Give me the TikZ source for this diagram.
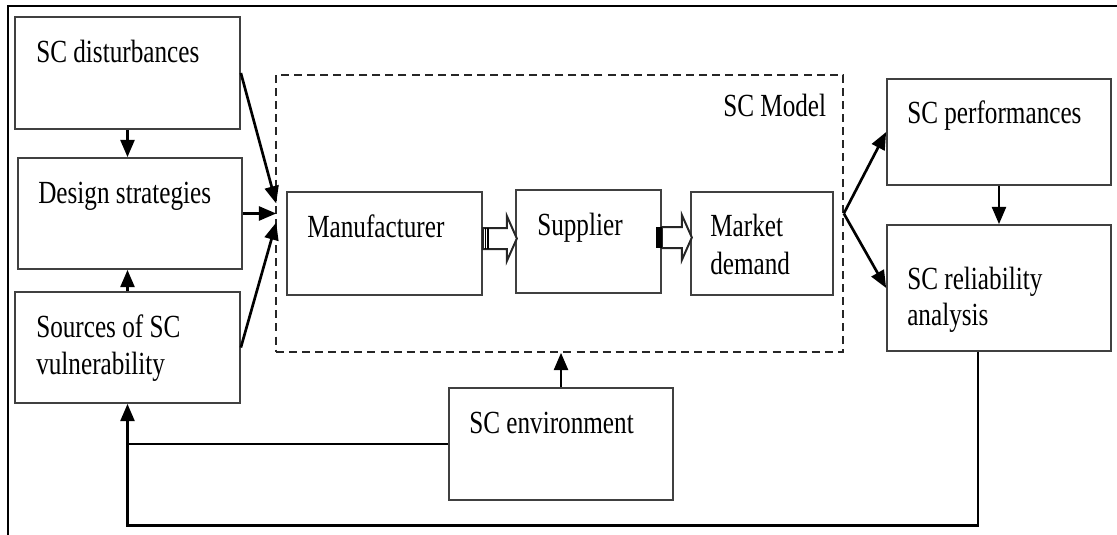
\documentclass[tikz,border=0pt]{standalone}
\usepackage{fontspec}
\usepackage{graphicx}
\setmainfont{Liberation Serif}
\usetikzlibrary{arrows.meta,calc,fit}
\newcommand{\stx}[1]{\scalebox{1}[1.28]{#1}}
\begin{document}
\begin{tikzpicture}[x=0.75pt,y=-0.75pt,
  box/.style={draw=black!75,line width=1.3pt,inner sep=0pt,fill=white},
  modelbox/.style={draw=black!85,line width=1.2pt,dash pattern=on 6pt off 3.8pt,inner sep=0pt},
  txt/.style={anchor=base west,inner sep=0pt,font=\fontsize{18.9pt}{22pt}\selectfont},
  conn/.style={line width=2pt,-{Triangle[length=13pt,width=10.5pt]}},
  fb/.style={line width=2.2pt},
  frame/.style={line width=2.2pt},
  hollow/.style={draw=black!85,line width=1.5pt,fill=white,line join=miter}]
\useasboundingbox (0,0) rectangle (1117,535);
% outer frame (top and left)
\coordinate (fa) at (8,535);
\coordinate (fb) at (8,6);
\coordinate (fc) at (1117,6);
\draw[frame] (fa) -- (fb) -- (fc);
% boxes
\node[box,fit={(15,17) (240,129)}] (dist) {};
\node[box,fit={(18,158) (242,269)}] (des) {};
\node[box,fit={(15,292) (240,403)}] (src) {};
\node[modelbox,fit={(276,75) (843,352)}] (model) {};
\node[box,fit={(287,192) (482,295)}] (man) {};
\node[box,fit={(516,190) (661,293)}] (sup) {};
\node[box,fit={(691,192) (833,295)}] (mkt) {};
\node[box,fit={(887,79) (1111,185)}] (perf) {};
\node[box,fit={(887,225) (1111,351)}] (rel) {};
\node[box,fit={(449,388) (673,500)}] (env) {};
% texts
\node[txt] (tdist) at (36,63) {\stx{SC disturbances}};
\node[txt] (tdes) at (38,203) {\stx{Design strategies}};
\node[txt] (tsrc1) at (36,337) {\stx{Sources of SC}};
\node[txt] (tsrc2) at (36,374) {\stx{vulnerability}};
\node[txt] (tmodel) at (723,117) {\stx{SC Model}};
\node[txt] (tman) at (307,237) {\stx{Manufacturer}};
\node[txt] (tsup) at (537,235) {\stx{Supplier}};
\node[txt] (tmkt1) at (710,236) {\stx{Market}};
\node[txt] (tmkt2) at (710,274) {\stx{demand}};
\node[txt] (tperf) at (907,123) {\stx{SC performances}};
\node[txt] (trel1) at (907,289) {\stx{SC reliability}};
\node[txt] (trel2) at (907,325) {\stx{analysis}};
\node[txt] (tenv) at (469,433) {\stx{SC environment}};
% left-column arrows
\draw[conn] (dist.south) -- (dist.south |- des.north);
\draw[conn] (src.north) -- (src.north |- des.south);
% into the model
\coordinate (in1) at ($(model.west)+(1,-10)$);
\coordinate (in2) at ($(model.west)+(1,0)$);
\coordinate (in3) at ($(model.west)+(1,9)$);
\draw[conn] (dist.east) -- (in1);
\draw[conn] (des.east) -- (in2);
\draw[conn] (src.east) -- (in3);
% out of the model
\draw[conn] (model.east) -- (perf.west);
\draw[conn] (model.east) -- (rel.west);
\draw[conn] (perf.south) -- (rel.north);
% environment
\draw[conn] (env.north) -- (env.north |- model.south);
\coordinate (k1) at (src.south |- env.west);
\draw[fb] (env.west) -- (k1);
\draw[conn] (k1) -- (src.south);
% feedback from reliability
\coordinate (r0) at ($(rel.south)+(-21,0)$);
\coordinate (r1) at ($(r0)+(0,174)$);
\coordinate (r2) at (k1 |- r1);
\draw[fb,line join=miter] (r0) -- (r1) -- (r2) -- (k1);
% hollow block arrows
\coordinate (a1) at ($(man.east)+(0,-5)$);
\draw[hollow] (a1) ++(0,-10.5) -- ++(24,0) -- ++(0,-12) -- ++(10,22.5) -- ++(-10,22.5) -- ++(0,-12) -- ++(-24,0) -- cycle;
\draw[line width=1pt] ($(a1)+(2.5,-10.5)$) -- ($(a1)+(2.5,10.5)$);
\draw[line width=1pt] ($(a1)+(5,-10.5)$) -- ($(a1)+(5,10.5)$);
\coordinate (a2) at ($(sup.east)+(0,-4)$);
\draw[hollow] (a2) ++(0,-10.5) -- ++(20,0) -- ++(0,-12) -- ++(10,22.5) -- ++(-10,22.5) -- ++(0,-12) -- ++(-20,0) -- cycle;
\fill ($(a2)+(-6,-10.5)$) rectangle ($(a2)+(0.5,10.5)$);
\end{tikzpicture}
\end{document}
